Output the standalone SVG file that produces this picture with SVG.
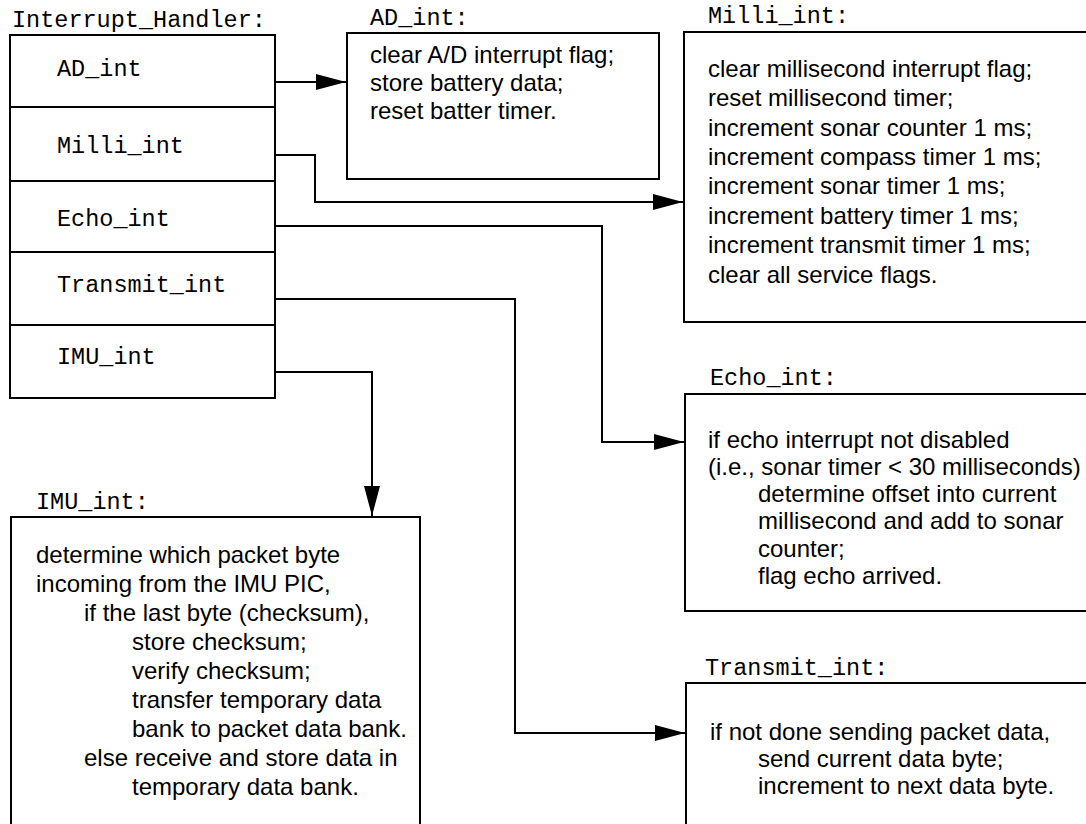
<svg xmlns="http://www.w3.org/2000/svg" width="1086" height="824" viewBox="0 0 1086 824">
<defs>
<style>
.box{fill:#fff;stroke:#000;stroke-width:2}
.line{fill:none;stroke:#000;stroke-width:2}
.mono{font-family:"Liberation Mono","Courier New",monospace;font-size:23.5px;fill:#000}
.sans{font-family:"Liberation Sans",Arial,sans-serif;font-size:24px;fill:#000}
</style>
<marker id="arrow" markerUnits="userSpaceOnUse" viewBox="0 0 30 16" refX="30" refY="8" markerWidth="30" markerHeight="16" orient="auto">
<path d="M0,0 L30,8 L0,16 Z" fill="#000"/>
</marker>
</defs>
<rect x="0" y="0" width="1086" height="824" fill="#fff"/>

<g id="interrupt_handler">
<text class="mono" x="12" y="27">Interrupt_Handler:</text>
<rect class="box" x="10" y="35" width="265" height="363"/>
<line class="line" x1="10" y1="107" x2="275" y2="107"/>
<line class="line" x1="10" y1="181" x2="275" y2="181"/>
<line class="line" x1="10" y1="252" x2="275" y2="252"/>
<line class="line" x1="10" y1="325" x2="275" y2="325"/>
<text class="mono" x="57" y="76">AD_int</text>
<text class="mono" x="57" y="153">Milli_int</text>
<text class="mono" x="57" y="226">Echo_int</text>
<text class="mono" x="57" y="292">Transmit_int</text>
<text class="mono" x="57" y="364">IMU_int</text>
</g>

<g id="ad_int">
<text class="mono" x="370" y="25">AD_int:</text>
<rect class="box" x="347" y="33" width="312" height="146"/>
<text class="sans" x="370" y="63">clear A/D interrupt flag;</text>
<text class="sans" x="370" y="91">store battery data;</text>
<text class="sans" x="370" y="119">reset batter timer.</text>
</g>

<g id="milli_int">
<text class="mono" x="708" y="23">Milli_int:</text>
<rect class="box" x="684" y="32" width="420" height="290"/>
<text class="sans" x="708" y="77">clear millisecond interrupt flag;</text>
<text class="sans" x="708" y="106">reset millisecond timer;</text>
<text class="sans" x="708" y="136">increment sonar counter 1 ms;</text>
<text class="sans" x="708" y="165">increment compass timer 1 ms;</text>
<text class="sans" x="708" y="194">increment sonar timer 1 ms;</text>
<text class="sans" x="708" y="224">increment battery timer 1 ms;</text>
<text class="sans" x="708" y="253">increment transmit timer 1 ms;</text>
<text class="sans" x="708" y="283">clear all service flags.</text>
</g>

<g id="echo_int">
<text class="mono" x="710" y="385">Echo_int:</text>
<rect class="box" x="685" y="394" width="420" height="217"/>
<text class="sans" x="708" y="448">if echo interrupt not disabled</text>
<text class="sans" x="708" y="475">(i.e., sonar timer &lt; 30 milliseconds)</text>
<text class="sans" x="758" y="502">determine offset into current</text>
<text class="sans" x="758" y="529">millisecond and add to sonar</text>
<text class="sans" x="758" y="557">counter;</text>
<text class="sans" x="758" y="584">flag echo arrived.</text>
</g>

<g id="transmit_int">
<text class="mono" x="705" y="675">Transmit_int:</text>
<rect class="box" x="686" y="683" width="420" height="160"/>
<text class="sans" x="710" y="740">if not done sending packet data,</text>
<text class="sans" x="758" y="767">send current data byte;</text>
<text class="sans" x="758" y="794">increment to next data byte.</text>
</g>

<g id="imu_int">
<text class="mono" x="36" y="509">IMU_int:</text>
<rect class="box" x="11" y="517" width="409" height="330"/>
<text class="sans" x="36" y="563">determine which packet byte</text>
<text class="sans" x="36" y="592">incoming from the IMU PIC,</text>
<text class="sans" x="84" y="621">if the last byte (checksum),</text>
<text class="sans" x="132" y="650">store checksum;</text>
<text class="sans" x="132" y="679">verify checksum;</text>
<text class="sans" x="132" y="708">transfer temporary data</text>
<text class="sans" x="132" y="737">bank to packet data bank.</text>
<text class="sans" x="84" y="766">else receive and store data in</text>
<text class="sans" x="132" y="795">temporary data bank.</text>
</g>

<g id="connectors">
<path class="line" d="M275,82 H346" marker-end="url(#arrow)"/>
<path class="line" d="M275,155 H315 V202 H683" marker-end="url(#arrow)"/>
<path class="line" d="M275,226 H602 V442 H684" marker-end="url(#arrow)"/>
<path class="line" d="M275,299 H515 V733 H685" marker-end="url(#arrow)"/>
<path class="line" d="M275,372 H372 V516" marker-end="url(#arrow)"/>
</g>
</svg>
